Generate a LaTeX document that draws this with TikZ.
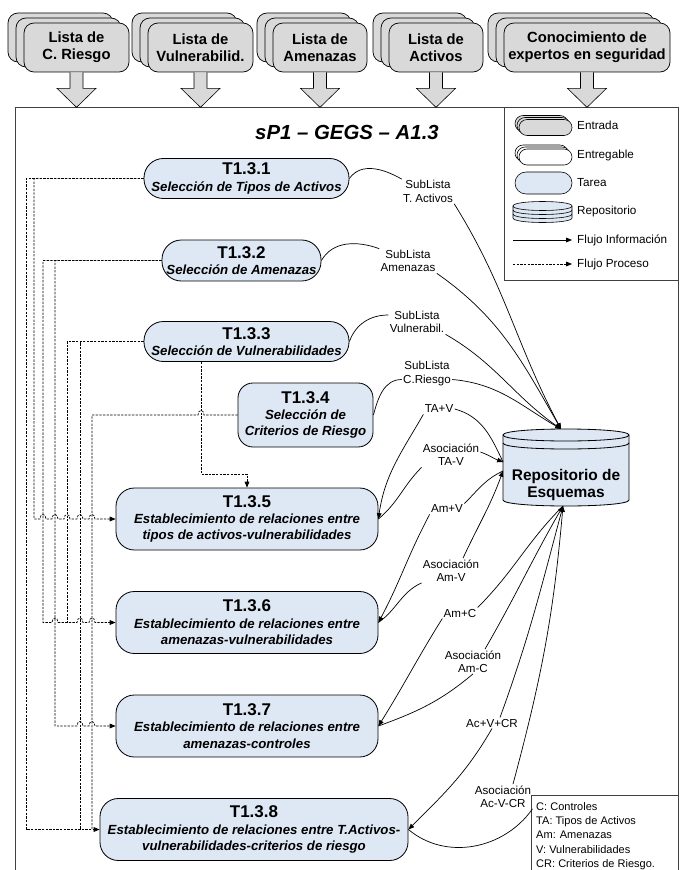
\documentclass[tikz,border=0pt]{standalone}
\usepackage{fontspec}
\setmainfont{Liberation Sans}
\usetikzlibrary{positioning}
\usetikzlibrary{calc}
\usetikzlibrary{arrows.meta}

\definecolor{inputgray}{RGB}{217,217,217}
\definecolor{taskblue}{RGB}{222,231,244}
\def\px{0.03cm}
\newcommand{\tasksub}{\fontsize{11.3}{14}\selectfont\bfseries\itshape}
\newcommand{\tid}[1]{{\fontsize{14.5}{17}\selectfont\upshape #1}}
% small jumps of the dashed lines over the vertical ones
\newcommand{\hopR}[2]{-- ({#1-3},#2) .. controls ({#1-3},{#2-6}) and ({#1+3},{#2-6}) .. ({#1+3},#2)}
\newcommand{\hopL}[2]{-- ({#1+3},#2) .. controls ({#1+3},{#2-6}) and ({#1-3},{#2-6}) .. ({#1-3},#2)}

\tikzset{
  inbox/.style={draw, fill=inputgray, line width=0.6pt, rounded corners=0.3cm, minimum height=49*\px, inner sep=0pt, align=center, font=\fontsize{12.6}{14.5}\selectfont\bfseries},
  capsule/.style={draw, fill=taskblue, line width=0.7pt, rounded corners=0.58cm, minimum height=40*\px, inner sep=0pt, align=center, font=\tasksub},
  taskbox/.style={draw, fill=taskblue, line width=0.7pt, rounded corners=0.55cm, minimum height=62*\px, inner sep=0pt, align=center, font=\tasksub},
  legin/.style={draw, line width=0.5pt, rounded corners=0.24cm, minimum width=53*\px, minimum height=16*\px, inner sep=0pt},
  lbl/.style={inner sep=1pt, align=center, font=\fontsize{9.9}{11.4}\selectfont},
  legtext/.style={inner sep=0pt, anchor=west, font=\fontsize{10}{12}\selectfont},
  info/.style={line width=0.6pt},
  arrowtip/.style={-{Triangle[length=5pt,width=4pt]}},
  proc/.style={line width=0.6pt, dash pattern=on 2pt off 1.1pt},
  blockarrow/.style={draw, fill=inputgray, line width=0.5pt},
  outline/.style={draw=black!75, line width=0.7pt}
}

\begin{document}
\begin{tikzpicture}[x=\px, y=-\px]
  \useasboundingbox (0,0) rectangle (681,870);

  % Frame, legend and abbreviations
  \draw[outline] (15,870) -- (15,107) -- (678,107) -- (678,870);
  \draw[outline] (504,107) rectangle (678,280);
  \draw[outline] (531,870) |- (678,795);

  % Inputs with their block arrows
  \foreach \nm/\cx/\w/\txt in {cr/76.5/105/{Lista de\\C. Riesgo}, vu/200.5/105/{Lista de\\Vulnerabilid.}, am/320/94/{Lista de\\Amenazas}, ac/436/94/{Lista de\\Activos}, ex/587/166/{Conocimiento de\\expertos en seguridad}}
  {
    \node[inbox, minimum width=\w*\px] (\nm-b) at (\cx-16,37.5) {};
    \node[inbox, minimum width=\w*\px] (\nm-m) at (\cx-8,42.5) {};
    \node[inbox, minimum width=\w*\px] (\nm) at (\cx,47.5) {\txt};
    \draw[blockarrow] (\nm.south) ++(-6.5,0) -- ++(0,16) -- ++(-13,0) -- ++(19.5,19) -- ++(19.5,-19) -- ++(-13,0) -- ++(0,-16);
  }

  \node[font=\fontsize{17.4}{20}\selectfont\bfseries\itshape] (title) at (347,132) {sP1 – GEGS – A1.3};

  % Legend
  \foreach \k in {2,1,0}
  {
    \node[legin, fill=inputgray] (lgIn\k) at (545.5-2*\k,127.5-2*\k) {};
    \node[legin, fill=white] (lgOut\k) at (545.5-2*\k,157-2*\k) {};
  }
  \node[legin, fill=taskblue, minimum width=57*\px, minimum height=22*\px, rounded corners=0.33cm] (lgTask) at (543.5,183) {};
  \draw[fill=taskblue, line width=0.5pt] (513,206) -- (513,218) .. controls (513,224) and (572,224) .. (572,218) -- (572,206) .. controls (572,200) and (513,200) .. (513,206) -- cycle;
  \draw[line width=0.5pt] (513,206) .. controls (513,212) and (572,212) .. (572,206);
  \draw[line width=0.5pt] (513,210) .. controls (513,216) and (572,216) .. (572,210);
  \draw[line width=0.5pt] (513,214) .. controls (513,220) and (572,220) .. (572,214);
  \coordinate (lgA1) at (513,240);
  \coordinate (lgA2) at (572,240);
  \coordinate (lgB1) at (513,264);
  \coordinate (lgB2) at (572,264);
  \draw[info, arrowtip] (lgA1) -- (lgA2);
  \draw[proc, arrowtip] (lgB1) -- (lgB2);
  \node[legtext] (lgInT) at (577,125) {Entrada};
  \node[legtext] (lgOutT) at (577,155) {Entregable};
  \node[legtext] (lgTaskT) at (577,183) {Tarea};
  \node[legtext] (lgRepoT) at (577,211) {Repositorio};
  \node[legtext] (lgAT) at (577,240) {Flujo Información};
  \node[legtext] (lgBT) at (577,264) {Flujo Proceso};

  \node[anchor=north west, align=left, inner sep=0pt, font=\fontsize{9.4}{12.2}\selectfont] (abbr) at (536,802)
    {C: Controles\\TA: Tipos de Activos\\Am: Amenazas\\V: Vulnerabilidades\\CR: Criterios de Riesgo.};

  % Tasks
  \node[capsule, minimum width=205*\px] (T131) at (246.5,178.5) {\tid{T1.3.1}\\Selección de Tipos de Activos};
  \node[capsule, minimum width=159*\px, minimum height=41*\px] (T132) at (241.5,260.5) {\tid{T1.3.2}\\Selección de Amenazas};
  \node[capsule, minimum width=205*\px] (T133) at (246.5,341.5) {\tid{T1.3.3}\\Selección de Vulnerabilidades};
  \node[taskbox, rounded corners=0.45cm, minimum width=135*\px, minimum height=64*\px] (T134) at (305.5,415) {\tid{T1.3.4}\\Selección de\\Criterios de Riesgo};
  \node[taskbox, minimum width=262*\px] (T135) at (247,519) {\tid{T1.3.5}\\Establecimiento de relaciones entre\\tipos de activos-vulnerabilidades};
  \node[taskbox, minimum width=262*\px] (T136) at (247,622.5) {\tid{T1.3.6}\\Establecimiento de relaciones entre\\amenazas-vulnerabilidades};
  \node[taskbox, minimum width=262*\px] (T137) at (247,726) {\tid{T1.3.7}\\Establecimiento de relaciones entre\\amenazas-controles};
  \node[taskbox, minimum width=308*\px] (T138) at (254,829.5) {\tid{T1.3.8}\\Establecimiento de relaciones entre T.Activos-\\vulnerabilidades-criterios de riesgo};

  % Repository
  \draw[fill=taskblue, line width=0.7pt] (503,435) -- (503,500) .. controls (503,508) and (629,508) .. (629,500) -- (629,435) .. controls (629,427) and (503,427) .. (503,435) -- cycle;
  \draw[line width=0.7pt] (503,435) .. controls (503,443) and (629,443) .. (629,435);
  \draw[line width=0.7pt] (503,443) .. controls (503,451) and (629,451) .. (629,443);
  \node[font=\fontsize{13.2}{13.8}\selectfont\bfseries, align=center] (repo) at (566,485) {Repositorio de\\Esquemas};
  \coordinate (repoT) at (561,429);
  \coordinate (repoWa) at (503,462);
  \coordinate (repoWb) at (503,471);
  \coordinate (repoS) at (563,506);

  % Labels of the information flows
  \node[lbl] (lTA) at (428,191.5) {SubLista\\T. Activos};
  \node[lbl] (lAm) at (408,261) {SubLista\\Amenazas};
  \node[lbl] (lVu) at (417,322) {SubLista\\Vulnerabil.};
  \node[lbl] (lCR) at (427,373.5) {SubLista\\C.Riesgo};
  \node[lbl] (lTAV) at (439,409) {TA+V};
  \node[lbl] (lATAV) at (451,455) {Asociación\\TA-V};
  \node[lbl] (lAmV) at (447,509) {Am+V};
  \node[lbl] (lAAmV) at (451,570.5) {Asociación\\Am-V};
  \node[lbl] (lAmC) at (460,613) {Am+C};
  \node[lbl] (lAAmC) at (473,661.5) {Asociación\\Am-C};
  \node[lbl] (lAcV) at (492,723) {Ac+V+CR};
  \node[lbl] (lAAcV) at (503,796.5) {Asociación\\Ac-V-CR};

  % Information flows
  \draw[info] (T131.east) to[out=55,in=150] (lTA.north west);
  \draw[info, arrowtip] (lTA.south east) to[out=-58,in=118] (repoT);
  \draw[info] (T132.east) to[out=60,in=160] (lAm.north west);
  \draw[info, arrowtip] (lAm.south east) to[out=-35,in=120] (repoT);
  \draw[info] (T133.east) to[out=70,in=180] ([yshift=7*\px]lVu.west);
  \draw[info, arrowtip] (lVu.south east) to[out=-30,in=145] (repoT);
  \draw[info] (T134.east) to[out=75,in=180] ([yshift=-6*\px]lCR.west);
  \draw[info, arrowtip] ([yshift=-6*\px]lCR.east) to[out=-5,in=150] (repoT);

  \draw[info] (repoWa) to[out=115,in=-15] (lTAV.east);
  \draw[info, arrowtip] (lTAV.south west) to[out=-120,in=82] (T135.east);
  \draw[info] (T135.east) to[out=40,in=-135] (lATAV.south west);
  \draw[info, arrowtip] ([yshift=3*\px]lATAV.east) to[out=-20,in=160] (repoWa);

  \draw[info] (repoWb) to[out=-155,in=45] (lAmV.north east);
  \draw[info, arrowtip] (lAmV.south west) to[out=-118,in=62] (T136.east);
  \draw[info] (T136.east) to[out=35,in=-155] (lAAmV.south west);
  \draw[info, arrowtip] ([xshift=12*\px]lAAmV.north) to[out=65,in=-110] (repoWb);

  \draw[info] (repoS) to[out=-135,in=45] (lAmC.north east);
  \draw[info, arrowtip] (lAmC.south west) to[out=-122,in=58] (T137.east);
  \draw[info] (T137.east) to[out=20,in=-140] (lAAmC.south);
  \draw[info, arrowtip] ([xshift=12*\px]lAAmC.north) to[out=60,in=-120] (repoS);

  \draw[info] (repoS) to[out=-105,in=70] ([xshift=8*\px]lAcV.north);
  \draw[info, arrowtip] (lAcV.south) to[out=-120,in=45] (T138.east);
  \draw[info] (T138.east) to[out=-40,in=-125] (lAAcV.south east);
  \draw[info, arrowtip] ([xshift=10*\px]lAAcV.north) to[out=75,in=-95] (repoS);

  % Process flows
  \draw[proc, arrowtip] (T131.west) -- (26,178.5) -- (26,829.5) -- (T138.west);
  \draw[proc, arrowtip] (T131.west) -- (34,178.5) -- (34,519) \hopR{43}{519} \hopR{55}{519} \hopR{67}{519} \hopR{80}{519} \hopR{92}{519} -- (T135.west);
  \draw[proc, arrowtip] (T132.west) -- (43,260.5) -- (43,622.5) \hopR{55}{622.5} \hopR{80}{622.5} \hopR{92}{622.5} -- (T136.west);
  \draw[proc, arrowtip] (T132.west) -- (55,260.5) -- (55,726) \hopR{80}{726} \hopR{92}{726} -- (T137.west);
  \draw[proc] (T133.west) -- (67,341.5) -- (67,622.5);
  \draw[proc] (T133.west) -- (80,341.5) -- (80,829.5);
  \draw[proc] (T134.west) \hopL{201}{415} -- (92,415) -- (92,829.5);
  \draw[proc, arrowtip] ([xshift=-45.5*\px]T133.south) -- ++(0,112) -| (T135.north);
\end{tikzpicture}
\end{document}
